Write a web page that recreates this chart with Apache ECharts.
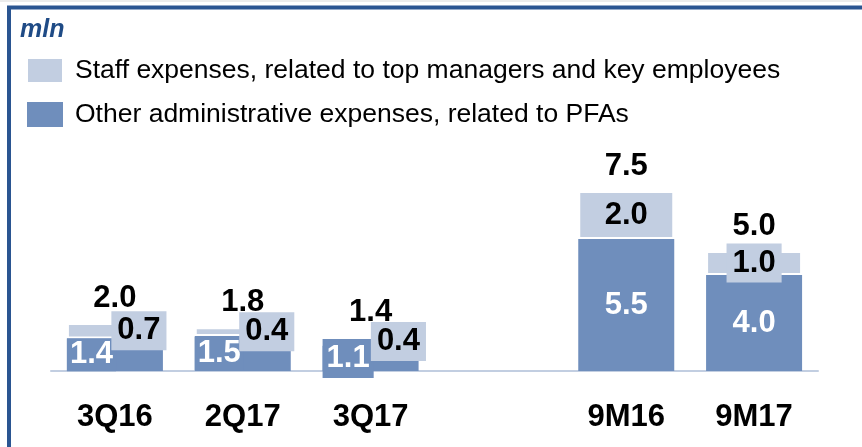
<!DOCTYPE html>
<html>
<head>
<meta charset="utf-8">
<script src="https://cdn.jsdelivr.net/npm/echarts@6/dist/echarts.min.js"></script>
<style>html,body{margin:0;padding:0;background:#fff}#c{width:862px;height:447px}</style>
</head>
<body>
<div id="c"></div>
<script>
// ---- data ----
var categories = ['3Q16', '2Q17', '3Q17', '', '9M16', '9M17'];
var otherAdmin = [1.35, 1.46, 1.05, null, 5.5, 4.0];   // Other administrative expenses, related to PFAs
var staffExp   = [0.65, 0.36, 0.36, null, 2.0, 1.0];   // Staff expenses, related to top managers and key employees
var seriesNames = ['Staff expenses, related to top managers and key employees', 'Other administrative expenses, related to PFAs'];
var unitLabel = 'mln';

// ---- styles ----
var DARK = '#6F8EBC', LIGHT = '#C2CEE1', FRAME = '#2A5591', TITLE = '#1F4B86';
var FONT = '"Liberation Sans", Arial, sans-serif';
var smallIdx = [0, 1, 2];

function totals() {
  return otherAdmin.map(function (v, i) { return v == null ? null : v + staffExp[i]; });
}

var darkData = otherAdmin.map(function (v, i) {
  var small = smallIdx.indexOf(i) >= 0;
  return {
    value: v,
    label: small ? { position: 'insideLeft', distance: 0, backgroundColor: DARK, padding: i === 2 ? [4, 4] : [1, 3] }
                 : { position: 'inside' }
  };
});
var lightData = staffExp.map(function (v, i) {
  var small = smallIdx.indexOf(i) >= 0;
  return {
    value: v,
    label: small ? { position: [i === 2 ? '79%' : '75%', '50%'], align: 'center', verticalAlign: 'middle' }
                 : { position: 'inside' }
  };
});
var tot = totals();
var totalData = tot.map(function (t) { return t == null ? null : 0; });

var lbl = { show: true, fontSize: 31, fontWeight: 'bold', fontFamily: FONT,
  formatter: function (p) { return p.value == null ? '' : Number(p.value).toFixed(1); } };

var chart = echarts.init(document.getElementById('c'), null, { renderer: 'canvas' });
chart.setOption({
  animation: false,
  backgroundColor: '#fff',
  title: { text: unitLabel, left: 20, top: 18, padding: 0,
    textStyle: { color: TITLE, fontSize: 25, fontWeight: 'bold', fontStyle: 'italic', fontFamily: FONT } },
  legend: {
    orient: 'vertical', left: 26, top: 57, padding: 0, itemWidth: 36, itemHeight: 25, itemGap: 17,
    data: seriesNames, icon: 'rect',
    textStyle: { fontSize: 26.5, color: '#000', fontFamily: FONT, lineHeight: 25, padding: [2, 0, 0, 7] }
  },
  graphic: [
    { type: 'rect', shape: { x: 0, y: 0, width: 862, height: 2 }, style: { fill: '#ececec' }, silent: true },
    { type: 'rect', shape: { x: 9, y: 7.5, width: 900, height: 500 }, style: { fill: 'none', stroke: FRAME, lineWidth: 4 }, silent: true }
  ],
  grid: { left: 51, right: 44, top: 131, bottom: 76 },
  xAxis: {
    type: 'category', data: categories,
    axisLine: { lineStyle: { color: LIGHT, width: 2 } },
    axisTick: { show: false },
    axisLabel: { margin: 31, fontSize: 31, fontWeight: 'bold', color: '#000', fontFamily: FONT }
  },
  yAxis: { type: 'value', min: 0, max: 10, show: false, splitLine: { show: false } },
  series: [
    { name: seriesNames[1], type: 'bar', stack: 's', barWidth: 96, data: darkData,
      itemStyle: { color: DARK },
      label: Object.assign({}, lbl, { color: '#fff' }) },
    { name: seriesNames[0], type: 'bar', stack: 's', barWidth: 96, data: lightData,
      itemStyle: { color: LIGHT, borderColor: '#fff', borderWidth: 2 },
      label: Object.assign({}, lbl, { color: '#000', backgroundColor: LIGHT, padding: [4, 6] }) },
    { name: 'total', type: 'bar', stack: 's', barWidth: 96, data: totalData,
      itemStyle: { color: 'rgba(0,0,0,0)' },
      label: { show: true, position: 'top', distance: 9, fontSize: 31, fontWeight: 'bold', color: '#000', fontFamily: FONT,
        formatter: function (p) { var t = tot[p.dataIndex]; return t == null ? '' : t.toFixed(1); } } }
  ]
});
</script>
</body>
</html>
